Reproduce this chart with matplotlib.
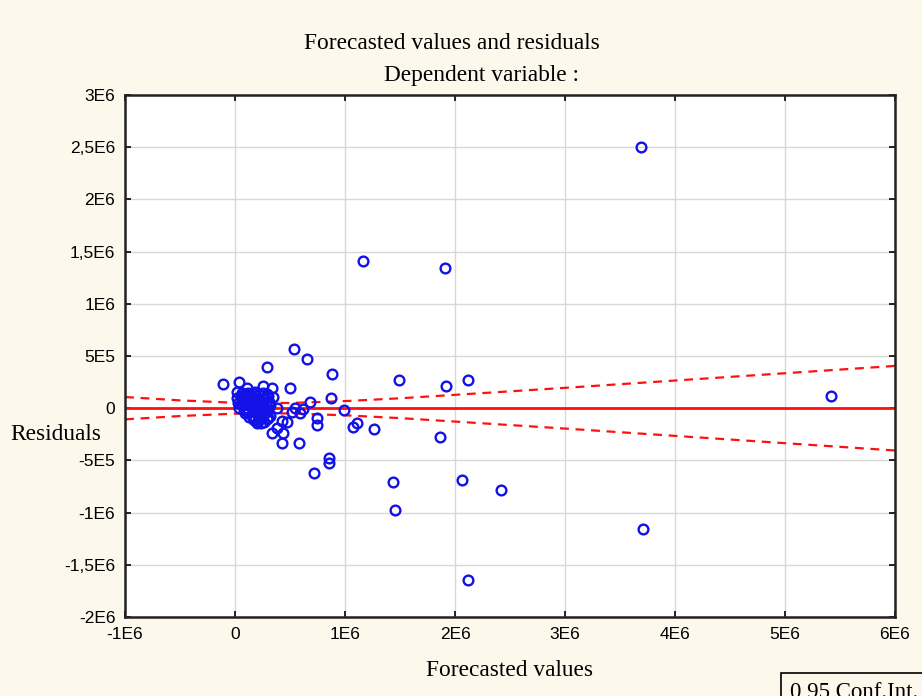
import matplotlib
matplotlib.use("Agg")
import matplotlib.pyplot as plt

# valores (en millones)
out_x = [3.69, 1.164, 1.909, 0.536, 0.655, 0.291, 0.882, 1.491, 2.118, 1.918, 0.50, -0.109, 0.036,
         0.018, 0.109, 0.255, 0.336, 0.345, 0.873, 0.682, 0.991, 5.42, 0.382, 0.545, 0.618, 0.518,
         0.591, 0.745, 0.745, 0.30, 0.427, 0.473, 0.382, 0.336, 0.436, 0.427, 0.582, 1.073, 1.109,
         1.264, 1.864, 0.855, 0.855, 0.718, 1.436, 2.064, 2.418, 1.455, 3.709, 2.118]
out_y = [2.50, 1.408, 1.341, 0.566, 0.469, 0.393, 0.326, 0.268, 0.268, 0.211, 0.192, 0.230, 0.249,
         0.153, 0.192, 0.211, 0.192, 0.105, 0.096, 0.057, -0.019, 0.12, 0.0, 0.0, -0.01, -0.038,
         -0.048, -0.096, -0.163, -0.096, -0.125, -0.134, -0.192, -0.239, -0.239, -0.335, -0.335, -0.182, -0.144,
         -0.201, -0.278, -0.479, -0.527, -0.623, -0.709, -0.690, -0.785, -0.977, -1.159, -1.648]

# nube de puntos cerca de cero
nube_x = [0.02, 0.03, 0.04, 0.05, 0.06, 0.07, 0.08, 0.09, 0.10, 0.10, 0.11, 0.12, 0.12, 0.13, 0.14,
          0.15, 0.15, 0.16, 0.17, 0.18, 0.18, 0.19, 0.20, 0.20, 0.21, 0.22, 0.23, 0.23, 0.24, 0.25,
          0.25, 0.26, 0.27, 0.27, 0.28, 0.29, 0.30, 0.30, 0.31, 0.32, 0.06, 0.08, 0.14, 0.16, 0.19,
          0.21, 0.22, 0.24, 0.26, 0.28, 0.11, 0.13, 0.17, 0.09, 0.05, 0.29, 0.17, 0.24, 0.20, 0.32]
nube_y = [0.10, 0.05, 0.00, 0.12, 0.08, 0.03, -0.02, 0.14, 0.10, 0.05, 0.00, -0.04, 0.15, 0.08, 0.02,
          -0.07, 0.12, 0.05, -0.01, -0.10, 0.16, 0.09, 0.03, -0.05, -0.12, 0.13, 0.07, -0.02, -0.08, 0.15,
          0.01, -0.13, 0.10, -0.05, 0.04, -0.10, 0.12, -0.02, 0.06, -0.07, 0.15, 0.07, 0.11, -0.03, 0.00,
          0.06, -0.09, 0.04, 0.09, -0.01, 0.13, -0.08, 0.14, -0.05, 0.04, 0.14, -0.11, -0.14, -0.14, 0.03]

# intervalo de confianza 0,95 (semi-ancho)
ic_x = [-1.0, -0.5, 0.0, 0.5, 1.0, 1.5, 2.0, 3.0, 4.0, 5.0, 6.0]
ic_h = [0.107, 0.075, 0.052, 0.050, 0.068, 0.095, 0.128, 0.195, 0.265, 0.335, 0.405]

xticks_lab = ["-1E6", "0", "1E6", "2E6", "3E6", "4E6", "5E6", "6E6"]
yticks_lab = ["-2E6", "-1,5E6", "-1E6", "-5E5", "0", "5E5", "1E6", "1,5E6", "2E6", "2,5E6", "3E6"]

M = 1e6
fondo = "#fdf8ec"
azul = "#1212e8"
rojo = "#ff1010"
serif = ["Liberation Serif", "DejaVu Serif"]
sans = ["Liberation Sans", "DejaVu Sans"]

fig = plt.figure(figsize=(9.22, 6.96), dpi=100, facecolor=fondo)
ax = fig.add_axes([0.1356, 0.1135, 0.8351, 0.75])
ax.set_facecolor("white")

ax.set_xlim(-1 * M, 6 * M)
ax.set_ylim(-2 * M, 3 * M)
ax.set_xticks([v * M for v in range(-1, 7)])
ax.set_xticklabels(xticks_lab, fontfamily=sans, fontsize=12.5)
ax.set_yticks([v * 0.5 * M for v in range(-4, 7)])
ax.set_yticklabels(yticks_lab, fontfamily=sans, fontsize=12.5)
ax.tick_params(direction="in", length=4, width=1.2, top=True, right=True, pad=7)
ax.grid(True, color="#d8d8d8", lw=1)
ax.set_axisbelow(True)
for s in ax.spines.values():
    s.set_linewidth(1.8)
    s.set_color("#222222")

ax.axhline(0, color=rojo, lw=2, zorder=2)
ax.plot([v * M for v in ic_x], [h * M for h in ic_h], color=rojo, lw=1.6, ls=(0, (4, 3)), zorder=2)
ax.plot([v * M for v in ic_x], [-h * M for h in ic_h], color=rojo, lw=1.6, ls=(0, (4, 3)), zorder=2)

ax.plot([v * M for v in nube_x], [v * M for v in nube_y], "o", ms=7, mfc="none", mec=azul, mew=1.7, zorder=3)
ax.plot([v * M for v in out_x], [v * M for v in out_y], "o", ms=7, mfc="none", mec=azul, mew=1.7, zorder=3)

fig.text(0.49, 0.938, "Forecasted values and residuals", ha="center", va="center", fontfamily=serif, fontsize=16.8)
fig.text(0.522, 0.892, "Dependent variable :", ha="center", va="center", fontfamily=serif, fontsize=16.8)
fig.text(0.011, 0.375, "Residuals", ha="left", va="center", fontfamily=serif, fontsize=16.8)
fig.text(0.553, 0.037, "Forecasted values", ha="center", va="center", fontfamily=serif, fontsize=16.8)
fig.text(0.857, -0.003, "0,95 Conf.Int.", ha="left", va="baseline", fontfamily=serif, fontsize=16.5,
         bbox=dict(boxstyle="square,pad=0.4", facecolor=fondo, edgecolor="black", lw=1.2))

fig.savefig("out.png", dpi=100, facecolor=fondo)
